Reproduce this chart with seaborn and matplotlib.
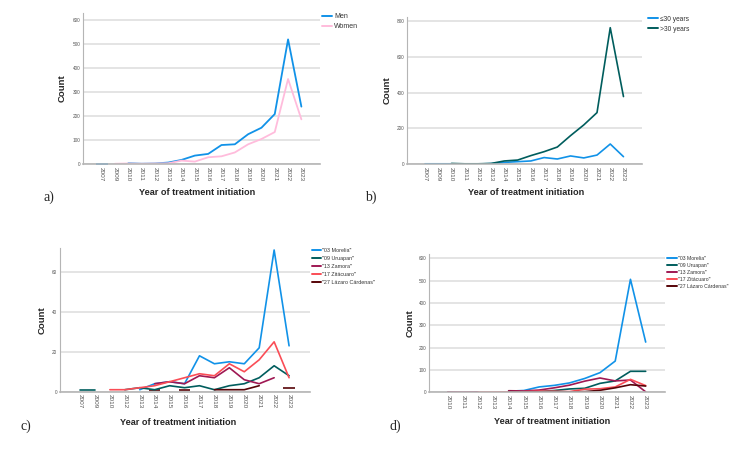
import numpy as np
import pandas as pd
import matplotlib
matplotlib.use("Agg")
import matplotlib.pyplot as plt
import seaborn as sns

nan = np.nan

# a) sex
years_ab = [2007, 2009, 2010, 2011, 2012, 2013, 2014, 2015, 2016, 2017, 2018, 2019, 2020, 2021, 2022, 2023]
men = [1, nan, 3, 1, 2, 6, 17, 35, 42, 79, 82, 124, 151, 208, 519, 239]
women = [nan, 1, 2, 1, 2, 3, 14, 10, 28, 32, 48, 82, 104, 133, 354, 186]

# b) age group
age_young = [1, 1, 1, 0, 0, 2, 9, 13, 17, 36, 28, 45, 34, 50, 112, 41]
age_old = [nan, nan, 3, 1, 1, 3, 17, 22, 47, 69, 95, 159, 219, 288, 764, 378]

# c) and d) sanitary jurisdictions
regions = ['"03 Morelia"', '"09 Uruapan"', '"13 Zamora"', '"17 Zitácuaro"', '"27 Lázaro Cárdenas"']
years_c = [2007, 2009, 2010, 2012, 2013, 2014, 2015, 2016, 2017, 2018, 2019, 2020, 2021, 2022, 2023]
morelia_c = [nan, nan, nan, nan, 1, 4, 5, 4, 18, 14, 15, 14, 22, 71, 23]
uruapan_c = [1, 1, nan, 1, 2, 1, 3, 2, 3, 1, 3, 4, 7, 13, 8]
zamora_c = [nan, nan, nan, nan, nan, 4, 5, 4, 8, 7, 12, 6, 4, 7, nan]
zitacuaro_c = [nan, nan, 1, 1, 2, 3, 5, 7, 9, 8, 14, 10, 16, 25, 7]
lazaro_c = [nan, nan, nan, nan, nan, 1, nan, 1, nan, 1, 1, 1, 3, nan, 2]

years_d = [2010, 2011, 2012, 2013, 2014, 2015, 2016, 2017, 2018, 2019, 2020, 2021, 2022, 2023]
morelia_d = [nan, nan, nan, nan, 5, 8, 24, 31, 42, 62, 88, 140, 506, 225]
uruapan_d = [nan, nan, nan, nan, nan, 2, 4, 8, 15, 18, 40, 51, 94, 94]
zamora_d = [2, 1, 2, nan, 7, 6, 10, 20, 32, 50, 64, 51, 55, 2]
zitacuaro_d = [nan, nan, 1, 1, 2, 3, 5, 5, 3, 14, 16, 24, 58, 30]
lazaro_d = [nan, nan, nan, nan, 3, 2, 2, 2, 2, 3, 9, 20, 34, 28]

BLUE, TEAL, MAGENTA, SALMON, MAROON = "#1192e8", "#005d5d", "#9f1853", "#fa4d56", "#570408"
PINK = "#ffbcdc"

sns.set_style("white")
plt.rcParams["font.family"] = ["Liberation Sans", "DejaVu Sans"]


def to_long(names, values):
    # split each series into runs of consecutive values so gaps stay open
    rows = []
    for name, vals in zip(names, values):
        run, prev_nan = 0, True
        for i, v in enumerate(vals):
            if np.isnan(v):
                prev_nan = True
                continue
            if prev_nan:
                run += 1
            rows.append({"series": name, "x": i, "count": v, "run": f"{name}-{run}"})
            prev_nan = False
    return pd.DataFrame(rows)


def panel(ax, years, names, values, colors, yticks, ymax, xlim, leg_anchor, leg_size, leg_space,
          handle_len, ylab_x, xlab_xy, lw=1.2):
    df = to_long(names, values)
    n = df.groupby("run")["x"].transform("size")
    pal = dict(zip(names, colors))
    sns.lineplot(data=df[n > 1], x="x", y="count", hue="series", hue_order=names,
                 units="run", estimator=None, palette=pal, linewidth=lw, ax=ax)
    dots = df[n == 1]
    if len(dots):
        sns.scatterplot(data=dots, x="x", y="count", hue="series", hue_order=names,
                        palette=pal, marker="_", s=70, linewidth=lw, ax=ax, legend=False)
    sns.move_legend(ax, "upper left", bbox_to_anchor=leg_anchor, frameon=False, title=None,
                    fontsize=leg_size, labelspacing=leg_space, handlelength=handle_len,
                    handletextpad=0.3, borderpad=0, borderaxespad=0, labelcolor="#333333")
    for line in ax.get_legend().get_lines():
        line.set_linewidth(1.4)

    ax.set_xlim(*xlim)
    ax.set_ylim(0, ymax)
    ax.set_xticks(range(len(years)), labels=[str(y) for y in years], rotation=270)
    ax.set_yticks(yticks)
    ax.tick_params(axis="x", length=0, pad=2, labelsize=4.6, labelcolor="#555555")
    ax.tick_params(axis="y", length=0, pad=2, labelsize=3.4, labelcolor="#555555")
    ax.yaxis.grid(True, color="#dcdcdc", linewidth=1.1)
    ax.set_axisbelow(True)
    for side in ("top", "right"):
        ax.spines[side].set_visible(False)
    ax.spines["left"].set_color("#b5b5b5")
    ax.spines["left"].set_linewidth(0.8)
    ax.spines["bottom"].set_color("#b5b5b5")
    ax.spines["bottom"].set_linewidth(1.2)

    ax.set_ylabel("Count", fontsize=6.8, fontweight="bold", va="center")
    ax.yaxis.set_label_coords(ylab_x, 0.5)
    ax.set_xlabel("Year of treatment initiation", fontsize=6.6, fontweight="bold", va="center")
    ax.xaxis.set_label_coords(*xlab_xy)


fig = plt.figure(figsize=(7.5, 4.53), dpi=100)
ax_a = fig.add_axes([0.1107, 0.638, 0.316, 0.3333])
ax_b = fig.add_axes([0.5427, 0.638, 0.3133, 0.3245])
ax_c = fig.add_axes([0.08, 0.1353, 0.3333, 0.3172])
ax_d = fig.add_axes([0.5724, 0.134, 0.3143, 0.3046])

panel(ax_a, years_ab, ["Men", "Women"], [men, women], [BLUE, PINK],
      range(0, 601, 100), 629, (-1.4, 16.4), (1.01, 1.0), 5.0, 0.45, 1.4,
      -0.088, (0.481, -0.19), lw=1.3)
panel(ax_b, years_ab, ["≤30 years", ">30 years"], [age_young, age_old], [BLUE, TEAL],
      range(0, 801, 200), 824, (-1.36, 16.4), (1.026, 1.01), 4.8, 0.45, 1.5,
      -0.085, (0.506, -0.197))
panel(ax_c, years_c, regions, [morelia_c, uruapan_c, zamora_c, zitacuaro_c, lazaro_c],
      [BLUE, TEAL, MAGENTA, SALMON, MAROON],
      range(0, 61, 20), 72, (-1.34, 15.4), (1.008, 1.0), 3.9, 0.55, 1.6,
      -0.073, (0.471, -0.216))
panel(ax_d, years_d, regions, [morelia_d, uruapan_d, zamora_d, zitacuaro_d, lazaro_d],
      [BLUE, TEAL, MAGENTA, SALMON, MAROON],
      range(0, 601, 100), 618, (-1.21, 14.27), (1.008, 0.988), 3.7, 0.4, 1.9,
      -0.082, (0.519, -0.215))

for label, x, y in [("a)", 49, 197), ("b)", 371, 197), ("c)", 26, 426), ("d)", 395, 426)]:
    fig.text(x / 750, 1 - y / 453, label, ha="center", va="center",
             fontsize=10, family="Liberation Serif")

fig.savefig("out.png", dpi=100)
